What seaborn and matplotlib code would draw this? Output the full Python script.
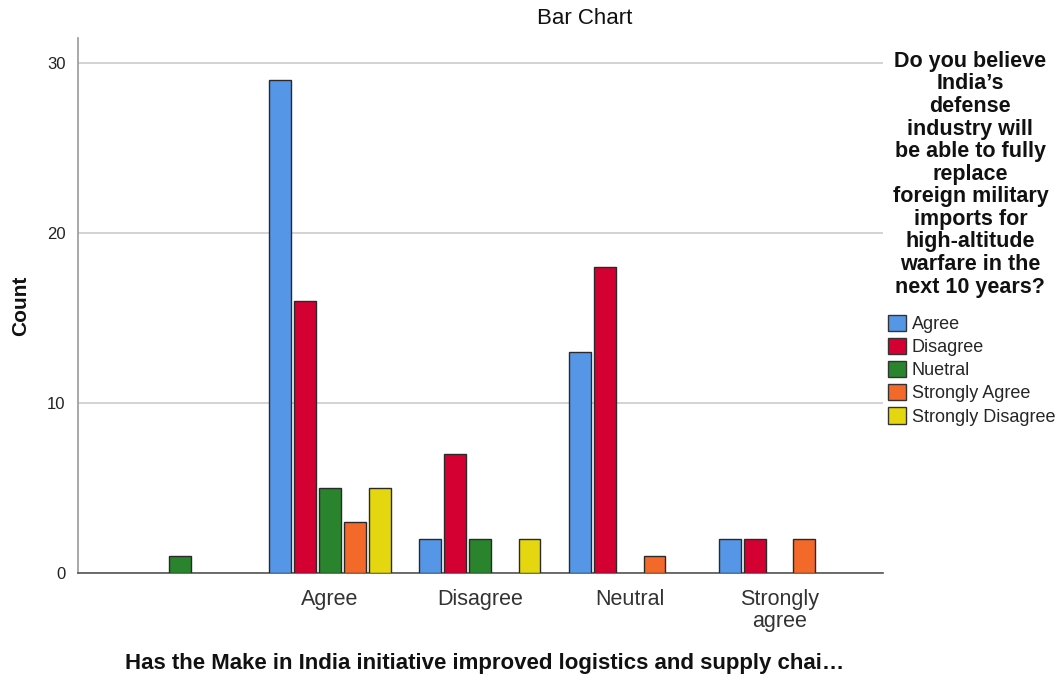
import matplotlib
matplotlib.use("Agg")
import matplotlib.pyplot as plt
import seaborn as sns
import pandas as pd
from matplotlib.patches import Patch

categories = ["", "Agree", "Disagree", "Neutral", "Strongly agree"]
tick_labels = ["", "Agree", "Disagree", "Neutral", "Strongly\nagree"]
hue_levels = ["Agree", "Disagree", "Nuetral", "Strongly Agree", "Strongly Disagree"]
agree = [0, 29, 2, 13, 2]
disagree = [0, 16, 7, 18, 2]
nuetral = [1, 5, 2, 0, 0]
strongly_agree = [0, 3, 0, 1, 2]
strongly_disagree = [0, 5, 2, 0, 0]
colors = ["#5596E6", "#D50032", "#29842D", "#F3692A", "#E5D70F"]

series = [agree, disagree, nuetral, strongly_agree, strongly_disagree]
rows = []
for lvl, vals in zip(hue_levels, series):
    for c, v in zip(categories, vals):
        if v > 0:
            rows.append({"cat": c, "resp": lvl, "count": v})
df = pd.DataFrame(rows)

sns.set_theme(style="white")
plt.rcParams["font.family"] = ["Liberation Sans", "DejaVu Sans"]

fig = plt.figure(figsize=(10.6, 6.76), dpi=100)
ax = fig.add_axes([0.0736, 0.152, 0.7594, 0.792])

sns.barplot(data=df, x="cat", y="count", hue="resp", order=categories,
            hue_order=hue_levels, palette=dict(zip(hue_levels, colors)),
            width=0.83, gap=0.12, edgecolor="#2a2a2a", linewidth=1.0,
            saturation=1, legend=False, ax=ax, zorder=3)

ax.set_xlim(-0.68, 4.69)
ax.set_ylim(0, 31.5)
ax.set_yticks([0, 10, 20, 30])
ax.yaxis.grid(True, color="#cccccc", linewidth=1.2, zorder=0)
ax.set_axisbelow(True)
ax.set_xticks(range(len(categories)))
ax.set_xticklabels(tick_labels, fontsize=15.5, color="#333333", linespacing=1.1)
ax.tick_params(axis="y", labelsize=12, colors="#222222", length=0, pad=9)
ax.tick_params(axis="x", length=0, pad=11)
for s in ["top", "right"]:
    ax.spines[s].set_visible(False)
ax.spines["left"].set_color("#999999")
ax.spines["left"].set_linewidth(1.2)
ax.spines["bottom"].set_color("#555555")
ax.spines["bottom"].set_linewidth(1.2)

ax.set_ylabel("Count", fontsize=15, fontweight="bold", color="#111111", labelpad=12)
ax.set_xlabel("")
fig.text(485 / 1060, 1 - 663 / 676,
         "Has the Make in India initiative improved logistics and supply chai\u2026",
         ha="center", va="center", fontsize=16, fontweight="bold", color="#111111")
fig.text(585 / 1060, 1 - 19 / 676, "Bar Chart", ha="center", va="center",
         fontsize=16, color="#111111")

legend_title = ("Do you believe\nIndia\u2019s\ndefense\nindustry will\nbe able to fully\n"
                "replace\nforeign military\nimports for\nhigh-altitude\nwarfare in the\nnext 10 years?")
fig.text(0.9155, 0.925, legend_title, ha="center", va="top", fontsize=15.5,
         fontweight="bold", color="#111111", linespacing=1.1)

handles = [Patch(facecolor=c, edgecolor="#333333", linewidth=1.0) for c in colors]
fig.legend(handles, hue_levels, loc="upper left", bbox_to_anchor=(0.831, 0.545),
           frameon=False, fontsize=13, handlelength=1.0, handleheight=1.0,
           handletextpad=0.3, labelspacing=0.27, borderaxespad=0)

fig.savefig("out.png", dpi=100)
